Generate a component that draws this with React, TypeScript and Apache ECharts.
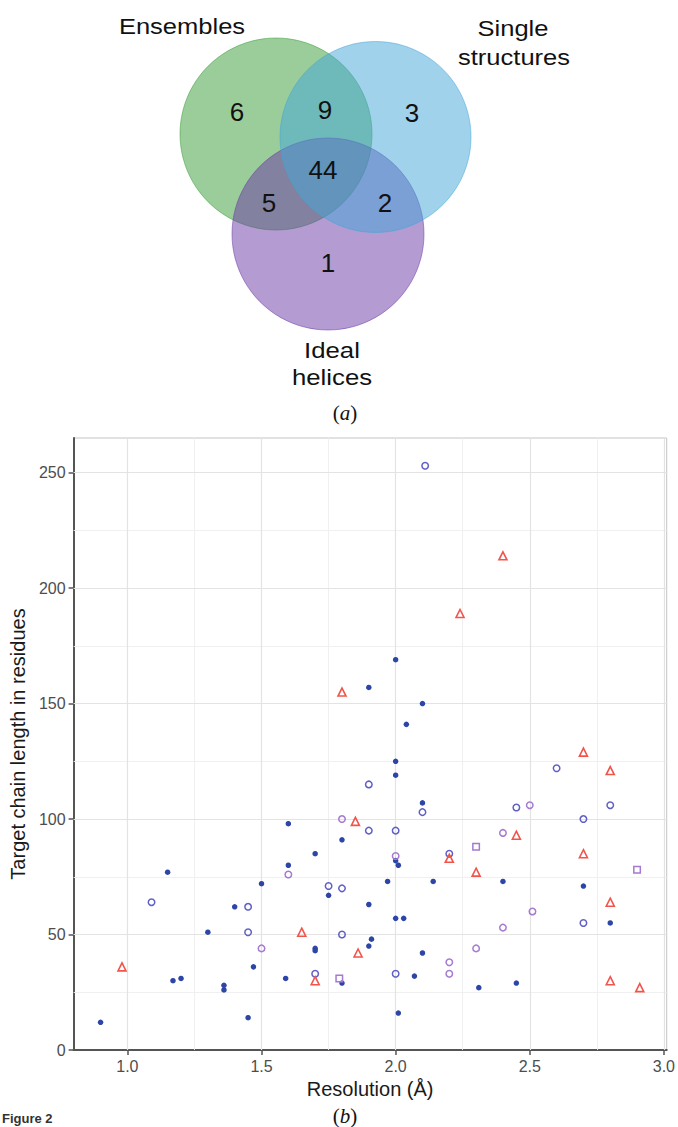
import React, { useEffect, useRef } from "react";
import * as echarts from "echarts";

// ---- Venn diagram (a) ----
const vennSetNames = ["Ensembles", "Single structures", "Ideal helices"];
const vennRegionCounts = { ensOnly: 6, ensSingle: 9, singleOnly: 3, all: 44, ensIdeal: 5, singleIdeal: 2, idealOnly: 1 };

// ---- Scatter (b) ----
const xTickValues = [1.0, 1.5, 2.0, 2.5, 3.0];
const xMinorValues = [1.25, 1.75, 2.25, 2.75];
const yTickValues = [0, 50, 100, 150, 200, 250];
const yMinorValues = [25, 75, 125, 175, 225];

const filledDots: number[][] = [
  [0.9, 12], [1.15, 77], [1.17, 30], [1.2, 31], [1.3, 51], [1.36, 28], [1.36, 26], [1.4, 62],
  [1.45, 14], [1.47, 36], [1.5, 72], [1.59, 31], [1.6, 98], [1.6, 80], [1.7, 85], [1.7, 44],
  [1.7, 43], [1.75, 67], [1.8, 91], [1.8, 29], [1.9, 157], [1.9, 63], [1.91, 48], [1.9, 45],
  [1.97, 73], [2.0, 169], [2.0, 125], [2.0, 119], [2.0, 82], [2.01, 80], [2.0, 57], [2.03, 57],
  [2.01, 16], [2.04, 141], [2.07, 32], [2.1, 150], [2.1, 107], [2.1, 42], [2.14, 73], [2.31, 27],
  [2.4, 73], [2.45, 29], [2.7, 71], [2.8, 55],
];
const blueCircles: number[][] = [
  [1.09, 64], [1.45, 62], [1.45, 51], [1.7, 33], [1.75, 71], [1.8, 70], [1.8, 50], [1.9, 115],
  [1.9, 95], [2.0, 95], [2.0, 33], [2.1, 103], [2.11, 253], [2.2, 85], [2.45, 105], [2.6, 122],
  [2.7, 100], [2.7, 55], [2.8, 106],
];
const purpleCircles: number[][] = [
  [1.5, 44], [1.6, 76], [1.8, 100], [2.0, 84], [2.2, 38], [2.2, 33], [2.3, 44], [2.4, 94],
  [2.4, 53], [2.5, 106], [2.51, 60],
];
const redTriangles: number[][] = [
  [0.98, 36], [1.65, 51], [1.7, 30], [1.8, 155], [1.85, 99], [1.86, 42], [2.2, 83], [2.24, 189],
  [2.3, 77], [2.4, 214], [2.45, 93], [2.7, 129], [2.7, 85], [2.8, 121], [2.8, 64], [2.8, 30],
  [2.91, 27],
];
const purpleSquares: number[][] = [[1.79, 31], [2.3, 88], [2.9, 78]];

const SANS = "'Liberation Sans', Arial, Helvetica, sans-serif";
const SERIF = "'Liberation Serif', 'Times New Roman', serif";

function label(text: string, x: number, y: number, size: number, sx = 1) {
  return {
    type: "text",
    x,
    y,
    scaleX: sx,
    z: 10,
    style: {
      text,
      fill: "#111",
      font: `${size}px ${SANS}`,
      align: "center",
      verticalAlign: "middle",
      textAlign: "center",
      textVerticalAlign: "middle",
    },
  };
}

function circle(cx: number, cy: number, r: number, rgb: string, z: number) {
  return {
    type: "circle",
    z,
    shape: { cx, cy, r },
    style: { fill: `rgba(${rgb},0.5)`, stroke: `rgba(${rgb},0.5)`, lineWidth: 1 },
  };
}

function caption(letter: string, x: number, y: number) {
  return {
    type: "text",
    x,
    y,
    z: 10,
    style: {
      text: "(" + "{i|" + letter + "})",
      fill: "#111",
      font: `21px ${SERIF}`,
      align: "center",
      verticalAlign: "middle",
      textAlign: "center",
      textVerticalAlign: "middle",
      rich: { i: { fontStyle: "italic", fontSize: 21, fontFamily: SERIF, fill: "#111" } },
    },
  };
}

export default function App() {
  const ref = useRef<HTMLDivElement>(null);
  useEffect(() => {
    const chart = echarts.init(ref.current!, null, { renderer: "svg" });
    const gridMajor = { color: "#e3e3e3", width: 1.2, type: "solid" };
    const gridMinor = { color: "#eeeeee", width: 0.9, type: "solid" };
    const ml = (vals: number[], key: string, ls: any) =>
      vals.map((v) => ({ [key]: v, lineStyle: ls }));
    const option: any = {
      animation: false,
      backgroundColor: "#ffffff",
      graphic: [
        circle(276, 134, 96, "55,155,55", 1),
        circle(328, 234, 96, "105,55,165", 2),
        circle(375.5, 137, 95.5, "65,165,215", 3),
        label(vennSetNames[0], 182, 26, 22, 1.16),
        label("Single", 513, 28, 22, 1.16),
        label("structures", 514, 57, 22, 1.16),
        label("Ideal", 332, 350, 23, 1.12),
        label("helices", 332, 377, 23, 1.12),
        label(String(vennRegionCounts.ensOnly), 237, 112, 26),
        label(String(vennRegionCounts.ensSingle), 325, 110, 26),
        label(String(vennRegionCounts.singleOnly), 412, 113, 26),
        label(String(vennRegionCounts.all), 323, 170, 26),
        label(String(vennRegionCounts.ensIdeal), 269, 203, 26),
        label(String(vennRegionCounts.singleIdeal), 385, 203, 26),
        label(String(vennRegionCounts.idealOnly), 328, 263, 26),
        caption("a", 345, 413),
        caption("b", 345, 1116),
        {
          type: "text",
          x: 2,
          y: 1112,
          style: { text: "Figure 2", fill: "#333", font: `bold 13px ${SANS}` },
        },
      ],
      grid: {
        left: 70,
        top: 438,
        right: 11,
        bottom: 77,
        show: true,
        borderColor: "#c4c4c4",
        borderWidth: 1,
        backgroundColor: "rgba(0,0,0,0)",
      },
      xAxis: {
        type: "value",
        min: 0.7995,
        max: 3.0105,
        name: "Resolution (Å)",
        nameLocation: "middle",
        nameGap: 26,
        nameTextStyle: { fontSize: 20, color: "#1a1a1a", fontFamily: SANS },
        axisLine: { show: true, onZero: false, lineStyle: { color: "#555", width: 2 } },
        axisTick: { show: true, customValues: xTickValues, length: 5, lineStyle: { color: "#555", width: 1.5 } },
        axisLabel: {
          customValues: xTickValues,
          formatter: (v: number) => v.toFixed(1),
          color: "#4d4d4d",
          fontSize: 16,
          fontFamily: SANS,
          margin: 8,
        },
        splitLine: { show: false },
      },
      yAxis: {
        type: "value",
        min: 0,
        max: 265,
        name: "Target chain length in residues",
        nameLocation: "middle",
        nameGap: 42,
        nameTextStyle: { fontSize: 20, color: "#1a1a1a", fontFamily: SANS },
        axisLine: { show: true, onZero: false, lineStyle: { color: "#555", width: 2 } },
        axisTick: { show: true, customValues: yTickValues, length: 5, lineStyle: { color: "#555", width: 1.5 } },
        axisLabel: {
          customValues: yTickValues,
          color: "#4d4d4d",
          fontSize: 16,
          fontFamily: SANS,
          margin: 8,
        },
        splitLine: { show: false },
      },
      series: [
        {
          type: "scatter",
          name: "grid",
          data: [],
          silent: true,
          markLine: {
            silent: true,
            z: 1,
            symbol: ["none", "none"],
            label: { show: false },
            emphasis: { disabled: true },
            animation: false,
            data: [
              ...ml(xMinorValues, "xAxis", gridMinor),
              ...ml(yMinorValues, "yAxis", gridMinor),
              ...ml(xTickValues, "xAxis", gridMajor),
              ...ml(yTickValues.filter((v) => v > 0), "yAxis", gridMajor),
            ],
          },
        },
        {
          type: "scatter",
          name: "Filled",
          data: filledDots,
          symbol: "circle",
          symbolSize: 5.5,
          z: 3,
          itemStyle: { color: "#2c45a6", opacity: 1 },
        },
        {
          type: "scatter",
          name: "Blue open",
          data: blueCircles,
          symbol: "circle",
          symbolSize: 6.5,
          z: 4,
          itemStyle: { color: "rgba(255,255,255,0)", borderColor: "#5f5fc6", borderWidth: 1.5, opacity: 1 },
        },
        {
          type: "scatter",
          name: "Purple open",
          data: purpleCircles,
          symbol: "circle",
          symbolSize: 6.5,
          z: 4,
          itemStyle: { color: "rgba(255,255,255,0)", borderColor: "#a57ad0", borderWidth: 1.5, opacity: 1 },
        },
        {
          type: "scatter",
          name: "Triangles",
          data: redTriangles,
          symbol: "triangle",
          symbolSize: 8,
          z: 4,
          itemStyle: { color: "rgba(255,255,255,0)", borderColor: "#f2544b", borderWidth: 1.6, opacity: 1 },
        },
        {
          type: "scatter",
          name: "Squares",
          data: purpleSquares,
          symbol: "rect",
          symbolSize: 6.5,
          z: 4,
          itemStyle: { color: "rgba(255,255,255,0)", borderColor: "#a57ad0", borderWidth: 1.5, opacity: 1 },
        },
      ],
    };
    chart.setOption(option);
    return () => chart.dispose();
  }, []);
  return (
    <div
      ref={ref}
      style={{ position: "absolute", left: 0, top: 0, width: 678, height: 1127, background: "#fff" }}
    />
  );
}
